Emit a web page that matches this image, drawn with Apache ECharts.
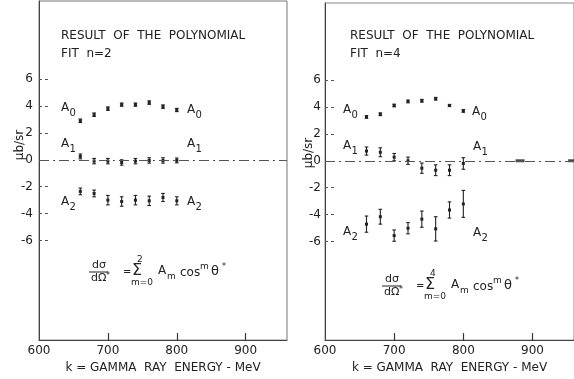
<!DOCTYPE html>
<html>
<head>
<meta charset="utf-8">
<script src="https://cdn.jsdelivr.net/npm/echarts@6/dist/echarts.min.js"></script>
<style>
html,body{margin:0;padding:0;background:#fff;}
#c{width:574px;height:379px;}
</style>
</head>
<body>
<div id="c"></div>
<script>
// ---------- data ----------
const energies = [660, 680, 700, 720, 740, 760, 780, 800];

const leftA0 = [2.9, 3.35, 3.8, 4.1, 4.1, 4.25, 3.95, 3.7];
const leftA0Err = [0.13, 0.13, 0.13, 0.12, 0.12, 0.13, 0.13, 0.12];
const leftA1 = [0.25, -0.1, -0.1, -0.2, -0.1, -0.05, -0.05, -0.05];
const leftA1Err = [0.18, 0.2, 0.2, 0.2, 0.2, 0.2, 0.2, 0.18];
const leftA2 = [-2.35, -2.5, -3.0, -3.1, -3.0, -3.05, -2.8, -3.05];
const leftA2Err = [0.25, 0.25, 0.35, 0.35, 0.35, 0.35, 0.3, 0.3];

const rightA0 = [3.25, 3.45, 4.1, 4.4, 4.45, 4.6, 4.1, 3.7];
const rightA0Err = [0.1, 0.1, 0.1, 0.1, 0.1, 0.1, 0.08, 0.1];
const rightA1 = [0.72, 0.63, 0.27, 0.0, -0.55, -0.7, -0.7, -0.2];
const rightA1Err = [0.3, 0.33, 0.27, 0.27, 0.38, 0.4, 0.4, 0.43];
const rightA2 = [-4.7, -4.15, -5.55, -5.0, -4.33, -5.05, -3.65, -3.2];
const rightA2Err = [0.6, 0.55, 0.42, 0.42, 0.6, 0.9, 0.6, 1.0];

const rightSmudges = [[882, 0], [958, 0]];

const xTickLabels = [600, 700, 800, 900];
const xTickMarks = [700, 800, 900];
const yTickLabels = [-6, -4, -2, 0, 2, 4, 6];
const yTickMarks = [-6, -4, -2, 2, 4, 6];

const titleLine1 = 'RESULT  OF  THE  POLYNOMIAL';
const leftFit = 'FIT  n=2';
const rightFit = 'FIT  n=4';
const xName = 'k = GAMMA  RAY  ENERGY - MeV';
const yName = 'μb/sr';

// ---------- chart ----------
const FONT = '"DejaVu Sans", sans-serif';
const INK = '#222';
const chart = echarts.init(document.getElementById('c'), null, {renderer: 'canvas'});

function makeData(vals, errs) {
  return energies.map((e, i) => [e, vals[i], errs[i]]);
}

function errRender(params, api) {
  const x = api.value(0), y = api.value(1), e = api.value(2);
  const c = api.coord([x, y]);
  const t = api.coord([x, y + e]);
  const b = api.coord([x, y - e]);
  const st = {stroke: INK, lineWidth: 1.1};
  const cap = 1.8;
  return {
    type: 'group',
    children: [
      {type: 'line', shape: {x1: c[0], y1: t[1], x2: c[0], y2: b[1]}, style: st},
      {type: 'line', shape: {x1: c[0] - cap, y1: t[1], x2: c[0] + cap, y2: t[1]}, style: st},
      {type: 'line', shape: {x1: c[0] - cap, y1: b[1], x2: c[0] + cap, y2: b[1]}, style: st},
      {type: 'rect', shape: {x: c[0] - 1.5, y: c[1] - 1.5, width: 3, height: 3}, style: {fill: INK}}
    ]
  };
}

function errSeries(idx, vals, errs) {
  return {
    type: 'custom', xAxisIndex: idx, yAxisIndex: idx,
    renderItem: errRender, data: makeData(vals, errs), silent: true, clip: false
  };
}

function xAxisDef(idx) {
  return {
    type: 'value', gridIndex: idx, min: 600, max: 960,
    axisLine: {show: true, onZero: false, lineStyle: {color: '#444', width: 1}},
    axisTick: {show: true, inside: true, length: 7, customValues: xTickMarks, lineStyle: {color: '#333', width: 1.2}},
    axisLabel: {show: true, customValues: xTickLabels, margin: 5, color: INK, fontFamily: FONT, fontSize: 12},
    splitLine: {show: false},
    name: xName, nameLocation: 'middle', nameGap: 20,
    nameTextStyle: {color: INK, fontFamily: FONT, fontSize: 12}
  };
}

function yAxisDef(idx, min, max, margin) {
  return {
    type: 'value', gridIndex: idx, min: min, max: max,
    axisLine: {show: true, onZero: false, lineStyle: {color: '#444', width: 1}},
    axisTick: {show: true, inside: true, length: 9, customValues: yTickMarks, lineStyle: {color: '#555', width: 1, type: [3, 3]}},
    axisLabel: {show: true, customValues: yTickLabels, margin: margin, color: INK, fontFamily: FONT, fontSize: 12},
    splitLine: {show: false}
  };
}

function zeroLine(idx) {
  return {
    type: 'line', xAxisIndex: idx, yAxisIndex: idx, data: [], silent: true,
    markLine: {
      silent: true, symbol: 'none', label: {show: false},
      lineStyle: {color: '#555', width: 1, type: [10, 4, 2, 4]},
      data: [{yAxis: 0}]
    }
  };
}

function txt(x, y, s, size, extra) {
  return Object.assign({
    type: 'text', x: x, y: y, silent: true,
    style: {text: s, font: size + 'px ' + FONT, fill: INK, textAlign: 'left', textVerticalAlign: 'top', align: 'left', verticalAlign: 'top'}
  }, extra || {});
}

function aLabel(x, y, sub) {
  return [txt(x, y, 'A', 12), txt(x + 8.5, y + 6, sub, 10)];
}

function formula(ox, oy, upper) {
  // ox, oy: reference anchor near the top-left of "dσ"
  const g = [];
  g.push(txt(ox + 1, oy - 4, 'dσ', 11));
  g.push({type: 'line', silent: true, shape: {x1: ox - 2, y1: oy + 8, x2: ox + 17, y2: oy + 8}, style: {stroke: INK, lineWidth: 1}});
  g.push(txt(ox, oy + 9, 'dΩ', 11));
  g.push(txt(ox + 15, oy + 8, '*', 8));
  g.push(txt(ox + 32, oy + 3, '=', 10));
  g.push(txt(ox + 46, oy - 9, upper, 9));
  g.push(txt(ox + 41, oy - 1, 'Σ', 16));
  g.push(txt(ox + 40, oy + 14, 'm=0', 9));
  g.push(txt(ox + 67, oy + 1, 'A', 12));
  g.push(txt(ox + 76, oy + 8, 'm', 9));
  g.push(txt(ox + 89, oy + 3, 'cos', 12));
  g.push(txt(ox + 109, oy - 2, 'm', 9));
  g.push(txt(ox + 120, oy + 1, 'θ', 13));
  g.push(txt(ox + 131, oy - 1, '*', 8));
  return g;
}

const graphics = [];
// Left panel texts
graphics.push(txt(61, 30, titleLine1, 12));
graphics.push(txt(61, 48, leftFit, 12));
graphics.push(...aLabel(61, 102, '0'));
graphics.push(...aLabel(187, 104, '0'));
graphics.push(...aLabel(61, 138, '1'));
graphics.push(...aLabel(187, 138, '1'));
graphics.push(...aLabel(61, 196, '2'));
graphics.push(...aLabel(187, 196, '2'));
graphics.push(...formula(91, 264, '2'));
graphics.push({type: 'text', x: 20, y: 145, rotation: Math.PI / 2, silent: true,
  style: {text: yName, font: '12px ' + FONT, fill: INK, textAlign: 'center', textVerticalAlign: 'middle', align: 'center', verticalAlign: 'middle'}});
// Right panel texts
graphics.push(txt(350, 30, titleLine1, 12));
graphics.push(txt(350, 48, rightFit, 12));
graphics.push(...aLabel(343, 104, '0'));
graphics.push(...aLabel(472, 106, '0'));
graphics.push(...aLabel(343, 140, '1'));
graphics.push(...aLabel(473, 141, '1'));
graphics.push(...aLabel(343, 226, '2'));
graphics.push(...aLabel(473, 227, '2'));
graphics.push(...formula(384, 278, '4'));
graphics.push({type: 'text', x: 309, y: 153, rotation: Math.PI / 2, silent: true,
  style: {text: yName, font: '12px ' + FONT, fill: INK, textAlign: 'center', textVerticalAlign: 'middle', align: 'center', verticalAlign: 'middle'}});

const option = {
  animation: false,
  backgroundColor: '#fff',
  grid: [
    {left: 39, top: 1, width: 248, height: 340, show: true, borderColor: '#777', borderWidth: 1, backgroundColor: 'transparent'},
    {left: 325, top: 3, width: 250, height: 340, show: true, borderColor: '#888', borderWidth: 1, backgroundColor: 'transparent'}
  ],
  xAxis: [xAxisDef(0), xAxisDef(1)],
  yAxis: [yAxisDef(0, -13.4, 11.8, 6), yAxisDef(1, -13.3, 11.7, 4)],
  series: [
    zeroLine(0),
    zeroLine(1),
    errSeries(0, leftA0, leftA0Err),
    errSeries(0, leftA1, leftA1Err),
    errSeries(0, leftA2, leftA2Err),
    errSeries(1, rightA0, rightA0Err),
    errSeries(1, rightA1, rightA1Err),
    errSeries(1, rightA2, rightA2Err),
    {type: 'scatter', xAxisIndex: 1, yAxisIndex: 1, data: rightSmudges, symbol: 'rect', symbolSize: [9, 3], itemStyle: {color: INK}, silent: true}
  ],
  graphic: graphics
};
chart.setOption(option);
</script>
</body>
</html>
